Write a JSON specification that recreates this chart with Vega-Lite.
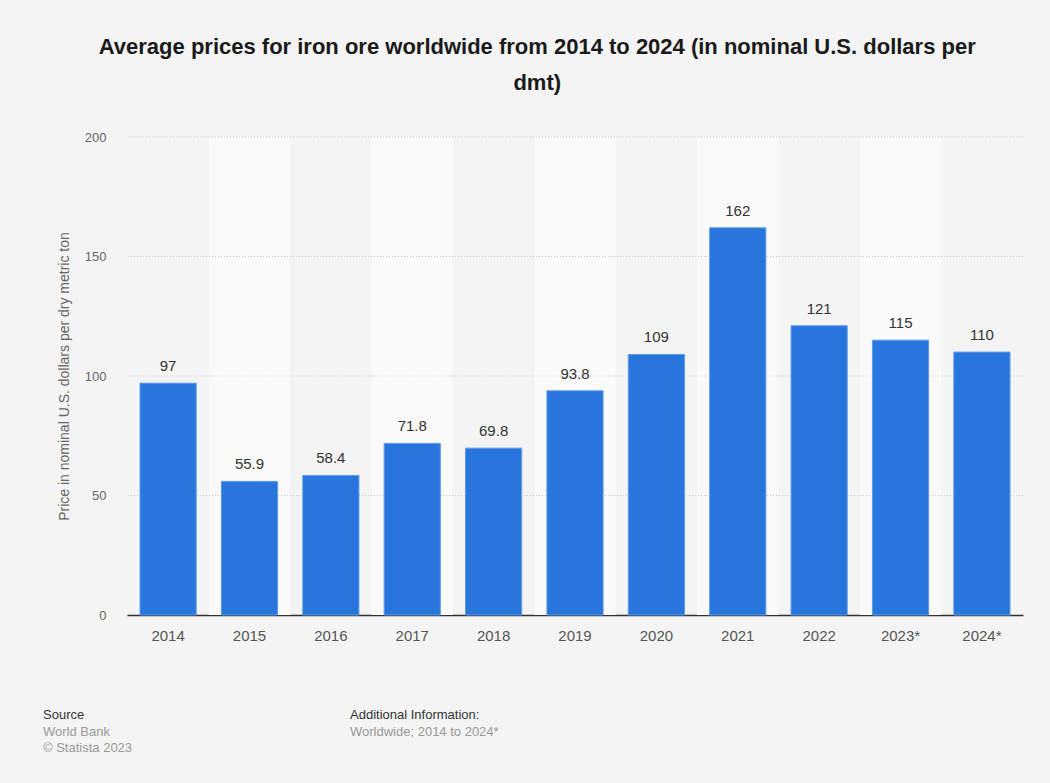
{
  "$schema": "https://vega.github.io/schema/vega-lite/v6.json",
  "background": "#f4f4f4",
  "padding": {"left": 43, "top": 36, "right": 27, "bottom": 20},
  "title": {
    "text": ["Average prices for iron ore worldwide from 2014 to 2024 (in nominal U.S. dollars per", "dmt)"],
    "anchor": "middle",
    "font": "Liberation Sans",
    "fontSize": 22,
    "fontWeight": "bold",
    "color": "#1a1a1a",
    "lineHeight": 36,
    "offset": 36,
    "dx": 4
  },
  "config": {
    "view": {"stroke": null},
    "font": "Liberation Sans"
  },
  "spacing": 66,
  "vconcat": [
    {
      "width": 896,
      "height": 478,
      "data": {
        "values": [
          {"year": "2014", "value": 97},
          {"year": "2015", "value": 55.9},
          {"year": "2016", "value": 58.4},
          {"year": "2017", "value": 71.8},
          {"year": "2018", "value": 69.8},
          {"year": "2019", "value": 93.8},
          {"year": "2020", "value": 109},
          {"year": "2021", "value": 162},
          {"year": "2022", "value": 121},
          {"year": "2023*", "value": 115},
          {"year": "2024*", "value": 110}
        ]
      },
      "layer": [
        {
          "transform": [{"filter": {"field": "year", "oneOf": ["2015", "2017", "2019", "2021", "2023*"]}}],
          "mark": {"type": "bar", "color": "#fafafa", "width": {"band": 1.449}},
          "encoding": {
            "x": {
              "field": "year",
              "type": "nominal",
              "sort": null,
              "scale": {"domain": ["2014", "2015", "2016", "2017", "2018", "2019", "2020", "2021", "2022", "2023*", "2024*"], "paddingInner": 0.31, "paddingOuter": 0.16},
              "axis": {
                "title": null,
                "labelAngle": 0,
                "ticks": false,
                "domainColor": "#333333",
                "domainWidth": 1.5,
                "labelColor": "#555555",
                "labelFontSize": 15,
                "labelPadding": 13
              }
            },
            "y": {"datum": 200, "type": "quantitative"},
            "y2": {"datum": 0}
          }
        },
        {
          "data": {"values": [{"g": 50}, {"g": 100}, {"g": 150}, {"g": 200}]},
          "mark": {"type": "rule", "color": "#c8c8c8", "strokeDash": [1, 2], "strokeWidth": 1},
          "encoding": {
            "y": {"field": "g", "type": "quantitative"}
          }
        },
        {
          "mark": {"type": "bar", "color": "#2876dd", "stroke": "#5a9ae8", "strokeWidth": 1},
          "encoding": {
            "x": {"field": "year", "type": "nominal", "sort": null},
            "y": {
              "field": "value",
              "type": "quantitative",
              "scale": {"domain": [0, 200]},
              "axis": {
                "title": "Price in nominal U.S. dollars per dry metric ton",
                "values": [0, 50, 100, 150, 200],
                "grid": false,
                "domain": false,
                "ticks": false,
                "labelPadding": 21,
                "labelColor": "#666666",
                "labelFontSize": 13,
                "titleColor": "#666666",
                "titleFontSize": 14,
                "titleFontWeight": "normal",
                "titlePadding": 13
              }
            }
          }
        },
        {
          "mark": {"type": "text", "baseline": "bottom", "dy": -9, "fontSize": 15, "color": "#333333"},
          "encoding": {
            "x": {"field": "year", "type": "nominal", "sort": null},
            "y": {"field": "value", "type": "quantitative"},
            "text": {"field": "value", "type": "quantitative"}
          }
        }
      ]
    },
    {
      "spacing": 20,
      "hconcat": [
        {
          "width": 203,
          "height": 10,
          "data": {"values": []},
          "mark": "point",
          "title": {
            "text": "Source",
            "subtitle": ["World Bank", "© Statista 2023"],
            "anchor": "start",
            "dx": -84,
            "offset": 0,
            "fontSize": 13,
            "fontWeight": "normal",
            "color": "#333333",
            "subtitleColor": "#999999",
            "subtitleFontSize": 13,
            "subtitleLineHeight": 16,
            "subtitlePadding": 4
          }
        },
        {
          "width": 200,
          "height": 10,
          "data": {"values": []},
          "mark": "point",
          "title": {
            "text": "Additional Information:",
            "subtitle": ["Worldwide; 2014 to 2024*", " "],
            "anchor": "start",
            "dx": -84,
            "offset": 0,
            "fontSize": 13,
            "fontWeight": "normal",
            "color": "#333333",
            "subtitleColor": "#999999",
            "subtitleFontSize": 13,
            "subtitleLineHeight": 16,
            "subtitlePadding": 4
          }
        }
      ]
    }
  ]
}
